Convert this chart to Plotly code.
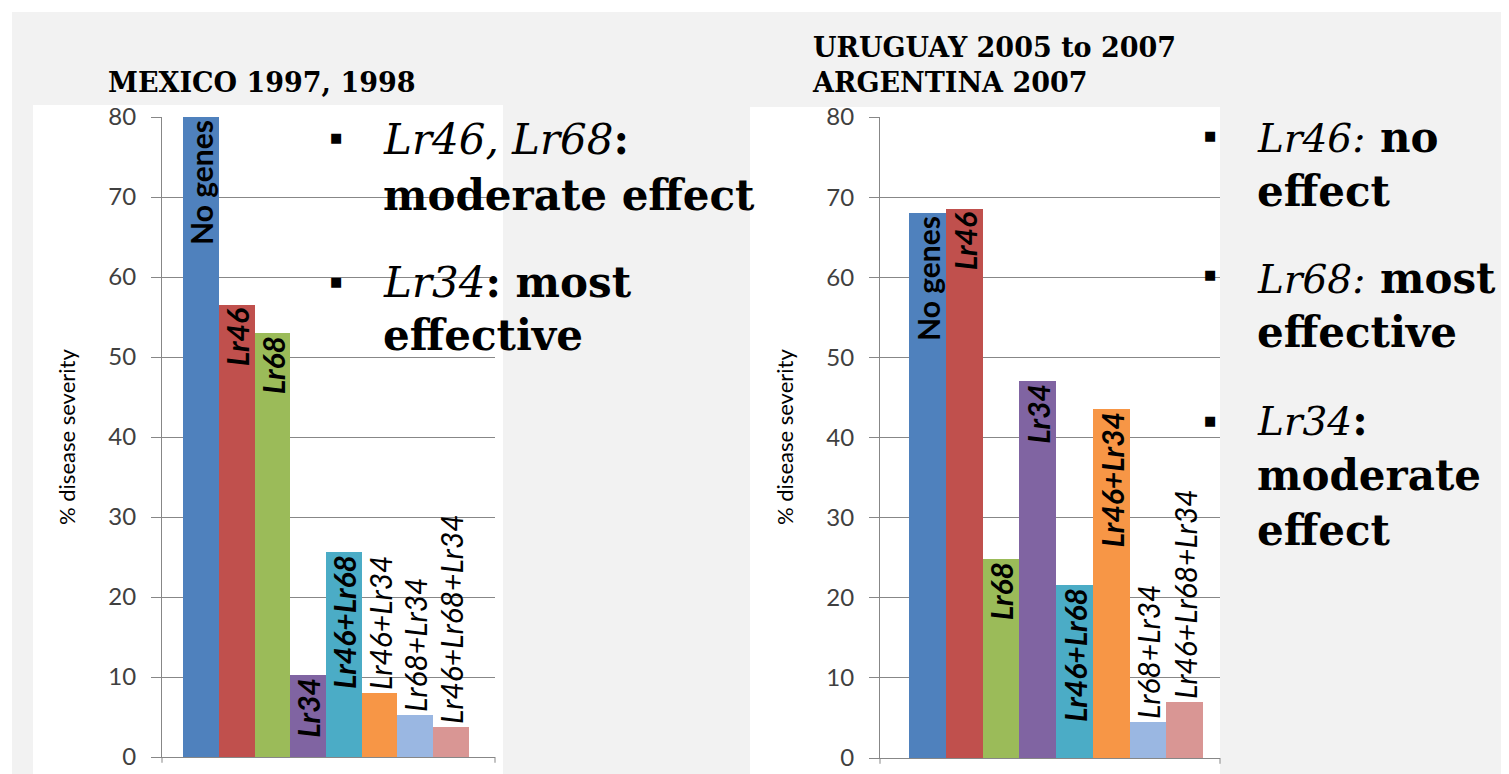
import plotly.graph_objects as go

# ---------------- data ----------------
genes = ["No genes", "Lr46", "Lr68", "Lr34", "Lr46+Lr68", "Lr46+Lr34", "Lr68+Lr34", "Lr46+Lr68+Lr34"]
mexico = [80, 56.5, 53, 10.25, 25.6, 8.0, 5.2, 3.7]
uruguay_argentina = [68, 68.5, 24.8, 47, 21.6, 43.6, 4.5, 7.0]
bar_colors = ["#4F81BD", "#C0504D", "#9BBB59", "#8064A2", "#4BACC6", "#F79646", "#9AB7E2", "#D99694"]
y_ticks = [0, 10, 20, 30, 40, 50, 60, 70, 80]
title_left = "MEXICO 1997, 1998"
title_right = "URUGUAY 2005 to 2007<br>ARGENTINA 2007"
y_title = "% disease severity"

# page is 1509x774; the html body has an 8px margin at top/left
PAGE_W, PAGE_H = 1509, 774
OFF = 8
W, H = PAGE_W - OFF, PAGE_H - OFF


def px_x(x):
    return (x - OFF) / W


def px_y(y):
    return 1 - (y - OFF) / H


def label(g):
    if g == "No genes":
        return g
    return "<i>" + g + "</i>"


def positions(vals):
    return ["inside" if v >= 9 else "outside" for v in vals]


fig = go.Figure()

for vals, xa, ya in [(mexico, "x", "y"), (uruguay_argentina, "x2", "y2")]:
    fig.add_trace(go.Bar(
        x=genes, y=vals, xaxis=xa, yaxis=ya,
        marker=dict(color=bar_colors, line=dict(width=0)),
        text=[label(g) for g in genes],
        textposition=positions(vals),
        textangle=-90,
        insidetextanchor="end",
        constraintext="none",
        cliponaxis=False,
        textfont=dict(family="Lato", size=30, color="black"),
        insidetextfont=dict(family="Lato", size=30, color="black", weight="bold"),
        outsidetextfont=dict(family="Lato", size=30, color="black", weight="normal"),
        showlegend=False,
        hoverinfo="skip",
    ))

grid_col = "#878787"
yaxis_common = dict(
    range=[0, 80], tickvals=y_ticks, showgrid=True, gridcolor=grid_col, gridwidth=1,
    zeroline=False, showline=True, linecolor=grid_col, linewidth=1,
    ticks="outside", ticklen=10, tickcolor=grid_col, ticklabelstandoff=10,
    ticklabeloverflow="allow",
    tickfont=dict(family="Lato", size=24, color="#404040"), fixedrange=True,
    automargin=False,
)
xaxis_common = dict(
    showticklabels=False, showgrid=False, zeroline=False, showline=True,
    linecolor=grid_col, linewidth=1, ticks="", fixedrange=True, automargin=False,
)

fig.update_layout(
    width=W, height=H,
    margin=dict(l=0, r=0, t=0, b=0, pad=0, autoexpand=False),
    paper_bgcolor="#f2f2f2",
    plot_bgcolor="white",
    bargap=0,
    xaxis=dict(domain=[px_x(162), px_x(495)], range=[-1.09, 8.23], anchor="y", **xaxis_common),
    yaxis=dict(domain=[px_y(757), px_y(117)], anchor="x", **yaxis_common),
    xaxis2=dict(domain=[px_x(880), px_x(1220)], range=[-1.29, 7.96], anchor="y2", **xaxis_common),
    yaxis2=dict(domain=[px_y(758), px_y(117)], anchor="x2", **yaxis_common),
)

# background panels
shapes = [
    dict(type="rect", xref="paper", yref="paper", x0=0, x1=1, y0=px_y(12), y1=1,
         fillcolor="white", line=dict(width=0), layer="below"),
    dict(type="rect", xref="paper", yref="paper", x0=0, x1=px_x(12), y0=0, y1=1,
         fillcolor="white", line=dict(width=0), layer="below"),
    dict(type="rect", xref="paper", yref="paper", x0=px_x(33), x1=px_x(503), y0=0, y1=px_y(105),
         fillcolor="white", line=dict(width=0), layer="below"),
    dict(type="rect", xref="paper", yref="paper", x0=px_x(750), x1=px_x(1220), y0=0, y1=px_y(107),
         fillcolor="white", line=dict(width=0), layer="below"),
]
# category-boundary tick marks on x axes
for xr, yr in [("x domain", "y domain"), ("x2 domain", "y2 domain")]:
    for xv in (0, 1):
        shapes.append(dict(type="line", xref=xr, yref=yr, x0=xv, x1=xv, y0=0, y1=-0.009,
                           line=dict(color=grid_col, width=1)))
fig.update_layout(shapes=shapes)

serif = "DejaVu Serif"
ann = []


def add_text(text, x, y, size, xanchor="left", weight="normal", angle=0, family=serif, color="black"):
    ann.append(dict(text=text, x=px_x(x), y=px_y(y), xref="paper", yref="paper",
                    xanchor=xanchor, yanchor="middle", showarrow=False, textangle=angle,
                    font=dict(family=family, size=size, color=color, weight=weight)))


# chart titles
add_text(title_left, 106, 82, 27, weight=600)
ann.append(dict(text=title_right, x=px_x(810), y=px_y(65), xref="paper", yref="paper",
                xanchor="left", yanchor="middle", align="left", showarrow=False,
                font=dict(family=serif, size=27, color="black", weight=600)))

# y-axis titles
add_text(y_title, 66, 437, 22, xanchor="center", angle=-90, family="Lato", color="black")
add_text(y_title, 784, 437, 22, xanchor="center", angle=-90, family="Lato", color="black")

# bullet texts, left
bsize = 42
bullet = "■"
add_text(bullet, 336, 138, 13, xanchor="center")
add_text("<i>Lr46, Lr68</i><b>:</b>", 381, 139, bsize)
add_text("<b>moderate effect</b>", 381, 195, bsize)
add_text(bullet, 336, 281, 13, xanchor="center")
add_text("<i>Lr34</i><b>: most</b>", 381, 282, bsize)
add_text("<b>effective</b>", 381, 336, bsize)

# bullet texts, right
rit = "<span style='font-size:39px'><i>{}</i></span>"
add_text(bullet, 1210, 136, 13, xanchor="center")
add_text(rit.format("Lr46:") + "<b> no</b>", 1255, 138, bsize)
add_text("<b>effect</b>", 1255, 192, bsize)
add_text(bullet, 1210, 274, 13, xanchor="center")
add_text(rit.format("Lr68:") + "<b> most</b>", 1255, 278, bsize)
add_text("<b>effective</b>", 1255, 332, bsize)
add_text(bullet, 1210, 420, 13, xanchor="center")
add_text(rit.format("Lr34") + "<b>:</b>", 1255, 420, bsize)
add_text("<b>moderate</b>", 1255, 475, bsize)
add_text("<b>effect</b>", 1255, 530, bsize)

fig.update_layout(annotations=ann)

fig.write_html("out.html")
